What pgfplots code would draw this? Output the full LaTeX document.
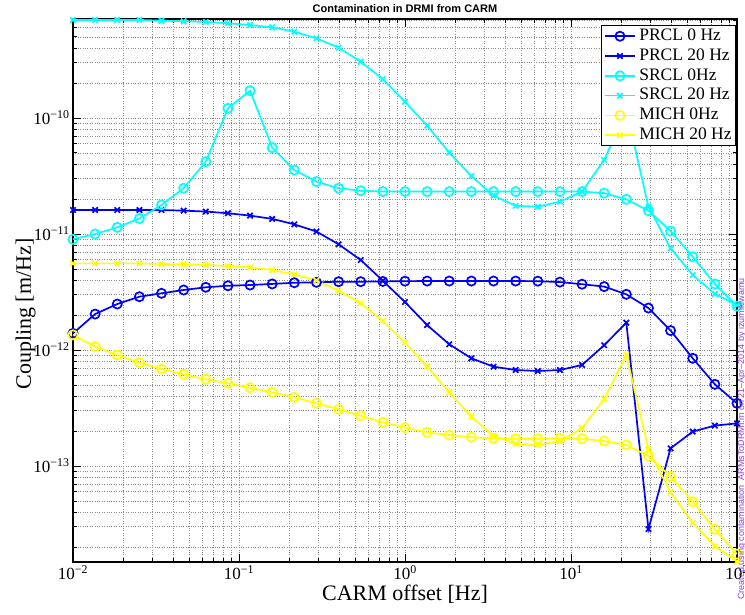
\documentclass[border=0pt]{standalone}
\usepackage{pgfplots}
\pgfplotsset{compat=1.18}
\usepackage{pgfplotstable}
\usepackage{fontspec}
\setmainfont{Liberation Serif}
\newfontfamily\arial{Liberation Sans}
\definecolor{mblue}{rgb}{0,0,1}
\definecolor{mcyan}{rgb}{0,1,1}
\definecolor{myellow}{rgb}{1,1,0}
\definecolor{mpurple}{RGB}{140,60,230}

\pgfplotstableread{
x        prcl0    prcl20   srcl0    srcl20   mich0    mich20
0.01     1.39e-12 1.61e-11 9.0e-12  7.0e-10  1.35e-12 5.58e-12
0.013594 2.04e-12 1.61e-11 1.0e-11  7.0e-10  1.07e-12 5.58e-12
0.018478 2.49e-12 1.61e-11 1.14e-11 7.0e-10  9.06e-13 5.58e-12
0.025119 2.88e-12 1.61e-11 1.36e-11 7.0e-10  7.78e-13 5.58e-12
0.034145 3.08e-12 1.61e-11 1.78e-11 6.9e-10  6.86e-13 5.51e-12
0.046416 3.29e-12 1.59e-11 2.48e-11 6.82e-10 6.17e-13 5.48e-12
0.063096 3.47e-12 1.56e-11 4.2e-11  6.73e-10 5.59e-13 5.41e-12
0.085770 3.58e-12 1.51e-11 1.21e-10 6.55e-10 5.16e-13 5.30e-12
0.11659  3.63e-12 1.44e-11 1.72e-10 6.33e-10 4.73e-13 5.16e-12
0.15849  3.71e-12 1.35e-11 5.55e-11 6.05e-10 4.32e-13 4.89e-12
0.21544  3.80e-12 1.21e-11 3.56e-11 5.55e-10 3.91e-13 4.50e-12
0.29286  3.83e-12 1.05e-11 2.83e-11 4.86e-10 3.47e-13 3.96e-12
0.39811  3.88e-12 8.15e-12 2.48e-11 4.04e-10 3.08e-13 3.24e-12
0.54117  3.88e-12 5.97e-12 2.36e-11 3.06e-10 2.71e-13 2.53e-12
0.73564  3.90e-12 3.95e-12 2.32e-11 2.16e-10 2.38e-13 1.78e-12
1        3.92e-12 2.59e-12 2.32e-11 1.38e-10 2.14e-13 1.16e-12
1.3594   3.93e-12 1.64e-12 2.32e-11 8.59e-11 1.95e-13 7.18e-13
1.8478   3.93e-12 1.12e-12 2.32e-11 5.02e-11 1.85e-13 4.32e-13
2.5119   3.93e-12 8.48e-13 2.32e-11 3.16e-11 1.77e-13 2.66e-13
3.4145   3.93e-12 7.18e-13 2.32e-11 2.14e-11 1.73e-13 1.82e-13
4.6416   3.93e-12 6.72e-13 2.32e-11 1.75e-11 1.72e-13 1.55e-13
6.3096   3.92e-12 6.59e-13 2.32e-11 1.72e-11 1.72e-13 1.52e-13
8.5770   3.85e-12 6.72e-13 2.32e-11 1.90e-11 1.73e-13 1.64e-13
11.659   3.69e-12 7.43e-13 2.32e-11 2.32e-11 1.72e-13 2.12e-13
15.849   3.52e-12 1.10e-12 2.25e-11 4.35e-11 1.64e-13 3.78e-13
21.544   3.02e-12 1.72e-12 1.99e-11 1.17e-10 1.52e-13 9.06e-13
29.286   2.30e-12 2.86e-14 1.59e-11 1.72e-11 1.22e-13 1.39e-13
39.811   1.47e-12 1.42e-13 1.06e-11 7.53e-12 8.09e-14 5.93e-14
54.117   8.48e-13 1.98e-13 6.37e-12 4.43e-12 4.92e-14 3.24e-14
73.564   5.06e-13 2.23e-13 3.71e-12 3.04e-12 2.85e-14 2.04e-14
100      3.47e-13 2.33e-13 2.39e-12 2.44e-12 1.74e-14 1.50e-14
}\data

\begin{document}
\begin{tikzpicture}
\useasboundingbox (-73pt,-53pt) rectangle (672pt,562pt);
\begin{loglogaxis}[
  scale only axis, width=664pt, height=543pt,
  xmin=0.01, xmax=100, ymin=1.487e-14, ymax=7.13e-10,
  xtick={0.01,0.1,1,10,100},
  xticklabels={10\textsuperscript{−2},10\textsuperscript{−1},10\textsuperscript{0},10\textsuperscript{1},10\textsuperscript{2}},
  minor xtick={0.02,0.03,0.04,0.05,0.06,0.07,0.08,0.09,0.2,0.3,0.4,0.5,0.6,0.7,0.8,0.9,2,3,4,5,6,7,8,9,20,30,40,50,60,70,80,90},
  ytick={1e-13,1e-12,1e-11,1e-10},
  yticklabels={10\textsuperscript{−13},10\textsuperscript{−12},10\textsuperscript{−11},10\textsuperscript{−10}},
  minor ytick={2e-14,3e-14,4e-14,5e-14,6e-14,7e-14,8e-14,9e-14,2e-13,3e-13,4e-13,5e-13,6e-13,7e-13,8e-13,9e-13,2e-12,3e-12,4e-12,5e-12,6e-12,7e-12,8e-12,9e-12,2e-11,3e-11,4e-11,5e-11,6e-11,7e-11,8e-11,9e-11,2e-10,3e-10,4e-10,5e-10,6e-10,7e-10},
  tick label style={font=\fontsize{17}{20}\selectfont},
  grid=both,
  major grid style={dotted, black!45, line width=0.5pt},
  minor grid style={dotted, black!45, line width=0.5pt},
  tick align=inside,
  major tick length=8pt, minor tick length=4pt,
  tick style={black, line width=0.8pt},
  axis line style={black, line width=1.1pt},
  title={\arial\bfseries Contamination in DRMI from CARM},
  title style={font=\fontsize{11}{13}\selectfont, at={(0.5,1)}, anchor=base, yshift=1pt, inner sep=0pt},
  legend image code/.code={\draw[mark repeat=2,mark phase=2,#1] plot coordinates {(0pt,0pt)(15pt,0pt)(30pt,0pt)};},
  legend cell align=left,
  legend style={at={(0.998,0.989)}, anchor=north east, draw=black, line width=1pt, fill=white,
    font=\fontsize{17.5}{20}\selectfont, inner xsep=2.5pt, inner ysep=2pt, row sep=2.3pt,
    nodes={inner sep=1pt, text height=12pt, text depth=3.5pt},
    /tikz/every odd column/.append style={column sep=2.5pt}},
]
\addplot[mblue, line width=1.7pt, mark=o, mark size=4.6pt, mark options={solid}] table[x=x,y=prcl0] {\data};
\addlegendentry{PRCL 0 Hz}
\addplot[mblue, line width=1.7pt, mark=x, mark size=3.8pt, mark options={solid}] table[x=x,y=prcl20] {\data};
\addlegendentry{PRCL 20 Hz}
\addplot[mcyan, line width=1.7pt, mark=o, mark size=4.6pt, mark options={solid}] table[x=x,y=srcl0] {\data};
\addlegendentry{SRCL 0Hz}
\addplot[mcyan, line width=1.7pt, mark=x, mark size=3.8pt, mark options={solid}] table[x=x,y=srcl20] {\data};
\addlegendentry{SRCL 20 Hz}
\addplot[myellow, line width=1.7pt, mark=o, mark size=4.6pt, mark options={solid}] table[x=x,y=mich0] {\data};
\addlegendentry{MICH 0Hz}
\addplot[myellow, line width=1.7pt, mark=x, mark size=3.8pt, mark options={solid}] table[x=x,y=mich20] {\data};
\addlegendentry{MICH 20 Hz}
\end{loglogaxis}
\node[anchor=base, inner sep=0pt, font=\fontsize{22}{26}\selectfont] at (332pt,-39pt) {CARM offset [Hz]};
\node[rotate=90, anchor=base, inner sep=0pt, font=\fontsize{22}{26}\selectfont] at (-42pt,248pt) {Coupling [m/Hz]};
\node[rotate=90, anchor=base west, inner sep=0pt, font=\arial\fontsize{9}{10}\selectfont, text=mpurple] at (671pt,-38pt) {Created using contamination\ \ ARMsToDRMI.m on 21–Apr–2014 by izumikiwamu};
\end{tikzpicture}
\end{document}
